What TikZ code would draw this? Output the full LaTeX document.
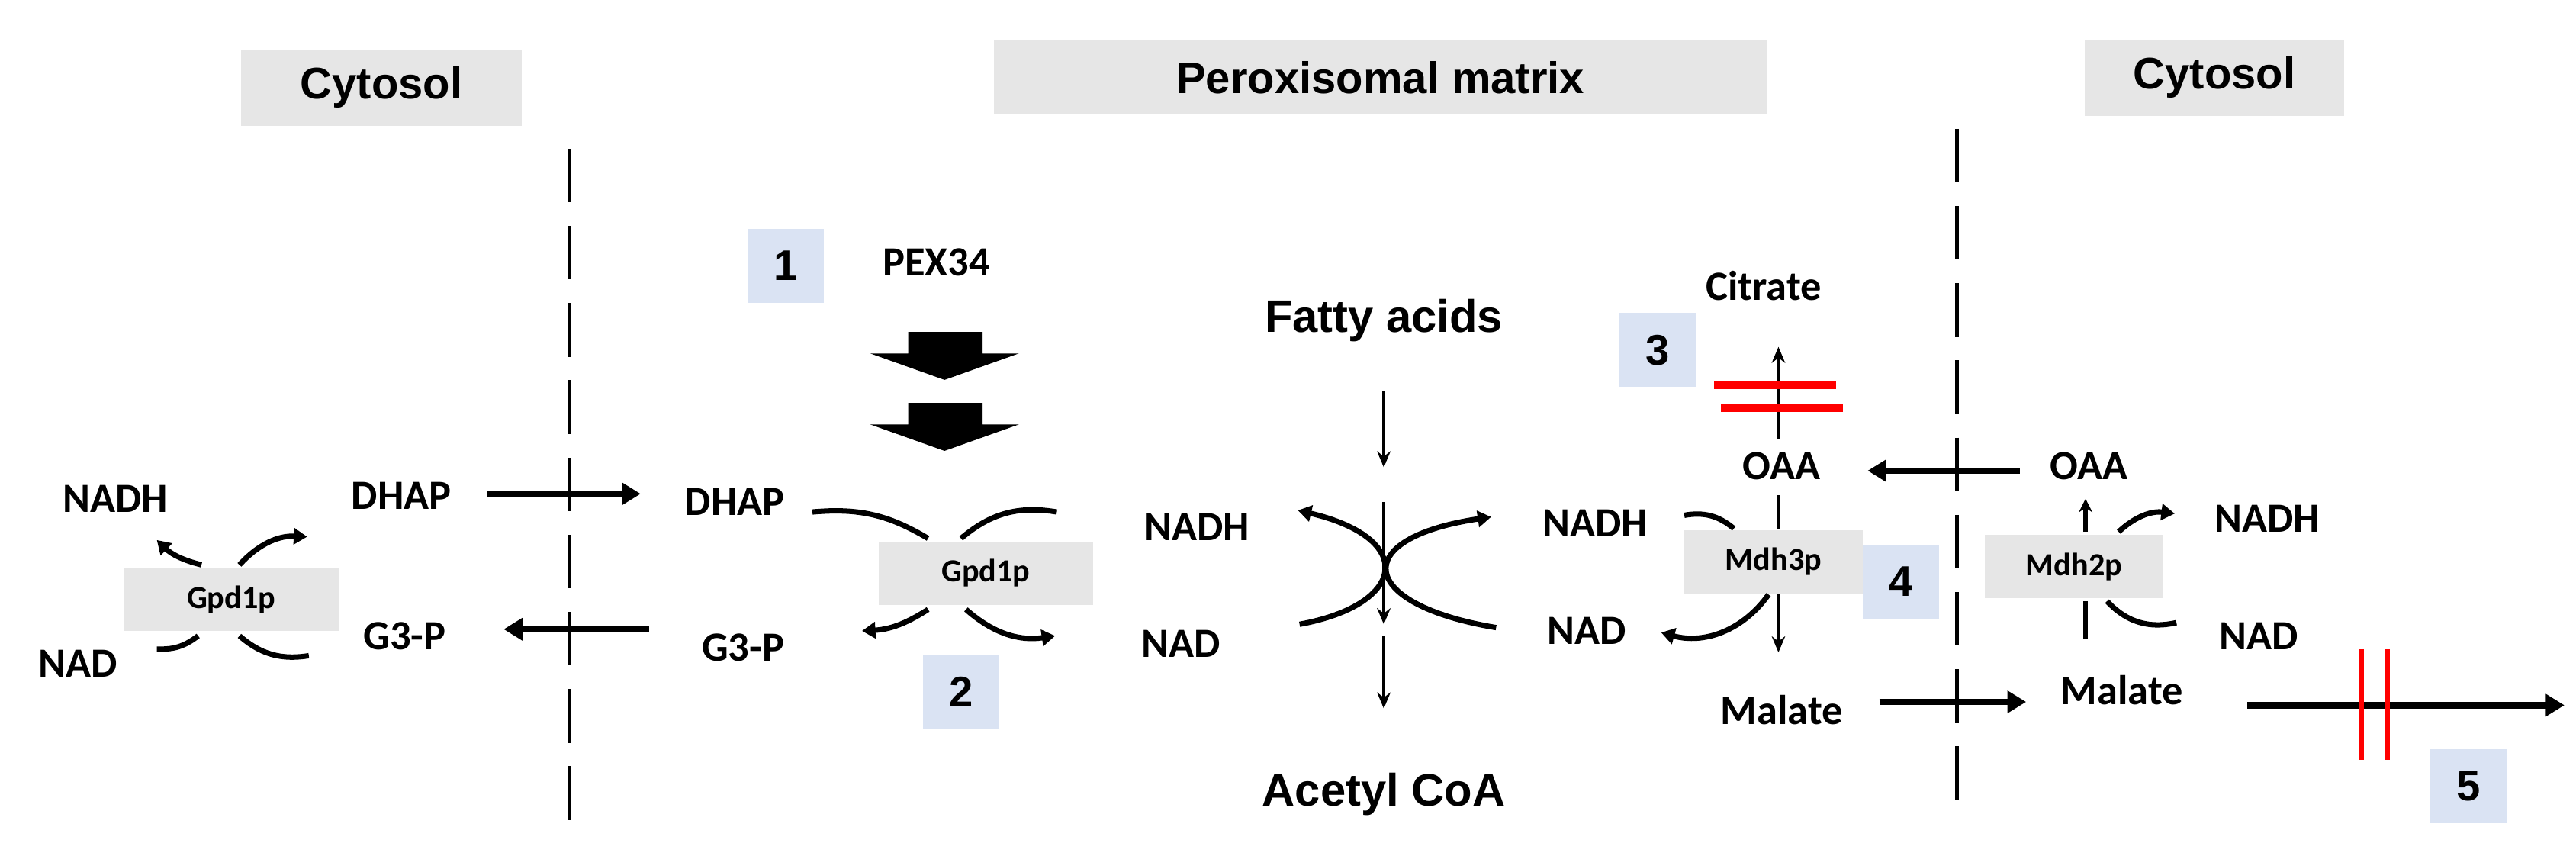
\documentclass[tikz,border=0pt]{standalone}
\usepackage{fontspec}
\setmainfont{Carlito}
\newfontfamily\arialfont{Liberation Sans}
\usetikzlibrary{arrows.meta}
\definecolor{boxgray}{HTML}{E6E6E6}
\definecolor{numblue}{HTML}{DAE3F3}
\tikzset{
  lbl/.style={font=\bfseries\fontsize{15.5}{17}\selectfont, inner sep=1pt},
  big/.style={font=\arialfont\bfseries\fontsize{17}{20}\selectfont, inner sep=1pt},
  title/.style={font=\arialfont\bfseries\fontsize{16.5}{19}\selectfont, fill=boxgray, inner sep=0pt},
  enz/.style={font=\bfseries\fontsize{12}{14}\selectfont, fill=boxgray, minimum width=2.81cm, minimum height=0.83cm, inner sep=0pt},
  num/.style={font=\arialfont\bfseries\fontsize{16}{18}\selectfont, fill=numblue, minimum width=1.0cm, minimum height=0.97cm, inner sep=0pt},
  thick arr/.style={line width=2.3pt, -{Triangle[length=7pt,width=8pt]}},
  thin arr/.style={line width=1.3pt, -{Stealth[length=6pt,width=5pt]}},
  curv/.style={line width=2pt},
  curvarr/.style={line width=2pt, -{Triangle[length=5pt,width=6pt]}},
  membrane/.style={line width=1.5pt, dash pattern=on 20pt off 8.8pt},
  stop/.style={red, line width=3pt}
}
\begin{document}
\begin{tikzpicture}[x=0.021647cm, y=-0.021647cm]
\useasboundingbox (0,0) rectangle (1560,518);
% titles
\node[title, minimum width=3.68cm, minimum height=1.0cm] (t1) at (231,53) {Cytosol};
\node[title, minimum width=10.13cm, minimum height=0.97cm] (t2) at (836,47) {Peroxisomal matrix};
\node[title, minimum width=3.4cm, minimum height=1.0cm] (t3) at (1341,47) {Cytosol};
% membranes
\coordinate (m1a) at (345,90); \coordinate (m1b) at (345,498);
\coordinate (m2a) at (1185,78); \coordinate (m2b) at (1185,490);
\draw[membrane] (m1a) -- (m1b);
\draw[membrane] (m2a) -- (m2b);
% left cytosol
\node[lbl] (nadhL) at (70,302) {NADH};
\node[lbl] (nadL) at (47,402) {NAD};
\node[lbl] (dhapL) at (243,300) {DHAP};
\node[lbl] (g3pL) at (245,385) {G3-P};
\node[enz] (gpdL) at (140,363) {Gpd1p};
\coordinate (a1) at (122,342); \coordinate (a2) at (95,327);
\coordinate (a3) at (145,342); \coordinate (a4) at (186,325);
\coordinate (a5) at (120,385); \coordinate (a6) at (95,393);
\coordinate (a7) at (145,385); \coordinate (a8) at (187,397);
\draw[curvarr] (a1) to[bend left=15] (a2);
\draw[curvarr] (a3) to[bend left=25] (a4);
\draw[curv] (a5) to[bend left=20] (a6);
\draw[curv] (a7) to[bend right=25] (a8);
% middle glycerol
\node[lbl] (dhapM) at (445,304) {DHAP};
\node[lbl] (g3pM) at (450,392) {G3-P};
\node[enz] (gpdM) at (597,347) {Gpd1p};
\coordinate (d1) at (295,299); \coordinate (d2) at (388,299);
\coordinate (g1) at (393,381); \coordinate (g2) at (305,381);
\draw[thick arr] (d1) -- (d2);
\draw[thick arr] (g1) -- (g2);
\coordinate (b1) at (492,310); \coordinate (b2) at (562,326);
\coordinate (b3) at (640,310); \coordinate (b4) at (582,326);
\coordinate (b5) at (562,369); \coordinate (b6) at (522,382);
\coordinate (b7) at (585,369); \coordinate (b8) at (639,385);
\draw[curv] (b1) to[bend left=18] (b2);
\draw[curv] (b3) to[bend right=25] (b4);
\draw[curvarr] (b5) to[bend left=15] (b6);
\draw[curvarr] (b7) to[bend right=25] (b8);
\node[num] (n1) at (476,161) {1};
\node[lbl] (pex) at (567,159) {PEX34};
\node[num] (n2) at (582,419) {2};
% block arrows
\fill (550,201) -- (595,201) -- (595,214) -- (617,214) -- (572,230) -- (527,214) -- (550,214) -- cycle;
\fill (550,244) -- (595,244) -- (595,257) -- (617,257) -- (572,273) -- (527,257) -- (550,257) -- cycle;
% fatty acids
\node[big] (fa) at (838,194) {Fatty acids};
\node[big] (acoa) at (838,481) {Acetyl CoA};
\node[lbl] (nadhF) at (725,319) {NADH};
\node[lbl] (nadF) at (715,390) {NAD};
\node[lbl] (nadhR) at (966,317) {NADH};
\node[lbl] (nadR) at (961,382) {NAD};
\coordinate (f1) at (838,237); \coordinate (f2) at (838,283);
\coordinate (f3) at (838,304); \coordinate (f4) at (838,378);
\coordinate (f5) at (838,385); \coordinate (f6) at (838,429);
\draw[thin arr] (f1) -- (f2);
\draw[thin arr] (f3) -- (f4);
\draw[thin arr] (f5) -- (f6);
\draw[curvarr] (787,378) .. controls (852,366) and (858,326) .. (786,309);
\draw[curvarr] (906,380) .. controls (822,366) and (816,326) .. (903,313);
% Mdh3p
\node[lbl] (citr) at (1068,173) {Citrate};
\node[lbl] (oaaP) at (1079,282) {OAA};
\node[enz, minimum width=2.34cm] (mdh3) at (1074,340) {Mdh3p};
\node[lbl] (malP) at (1079,430) {Malate};
\node[num] (n3) at (1004,212) {3};
\node[num] (n4) at (1151,352) {4};
\coordinate (c1) at (1077,266); \coordinate (c2) at (1077,210);
\draw[thin arr] (c1) -- (c2);
\draw[stop] (1038,233) -- (1112,233);
\draw[stop] (1042,247) -- (1116,247);
\coordinate (c3) at (1077,300);
\draw[line width=1.3pt] (c3) -- (mdh3.north -| c3);
\coordinate (c4) at (1077,395);
\draw[thin arr] (mdh3.south -| c4) -- (c4);
\draw[curv] (1020,312) to[bend left=25] (1050,320);
\draw[curvarr] (1071,360) to[bend left=35] (1006,383);
% Mdh2p
\node[lbl] (oaaC) at (1265,282) {OAA};
\node[enz, minimum width=2.34cm] (mdh2) at (1256,343) {Mdh2p};
\node[lbl] (nadhC) at (1373,314) {NADH};
\node[lbl] (nadC) at (1368,385) {NAD};
\node[lbl] (malC) at (1285,418) {Malate};
\coordinate (o1) at (1223,285); \coordinate (o2) at (1131,285);
\draw[thick arr] (o1) -- (o2);
\coordinate (ml1) at (1138,425); \coordinate (ml2) at (1227,425);
\draw[thick arr] (ml1) -- (ml2);
\draw[line width=1.5pt, -{Stealth[length=5pt,width=5pt]}] (1263,322) -- (1263,302);
\draw[curvarr] (1283,322) to[bend left=25] (1317,311);
\draw[line width=1.5pt] (1263,364) -- (1263,387);
\draw[curv] (1276,364) to[bend right=30] (1318,377);
% malate export blocked
\coordinate (e1) at (1361,427); \coordinate (e2) at (1553,427);
\draw[line width=2.4pt, -{Triangle[length=7pt,width=8pt]}] (e1) -- (e2);
\draw[red, line width=1.8pt] (1430,393) -- (1430,460);
\draw[red, line width=1.8pt] (1446,393) -- (1446,460);
\node[num] (n5) at (1495,476) {5};
\end{tikzpicture}
\end{document}
